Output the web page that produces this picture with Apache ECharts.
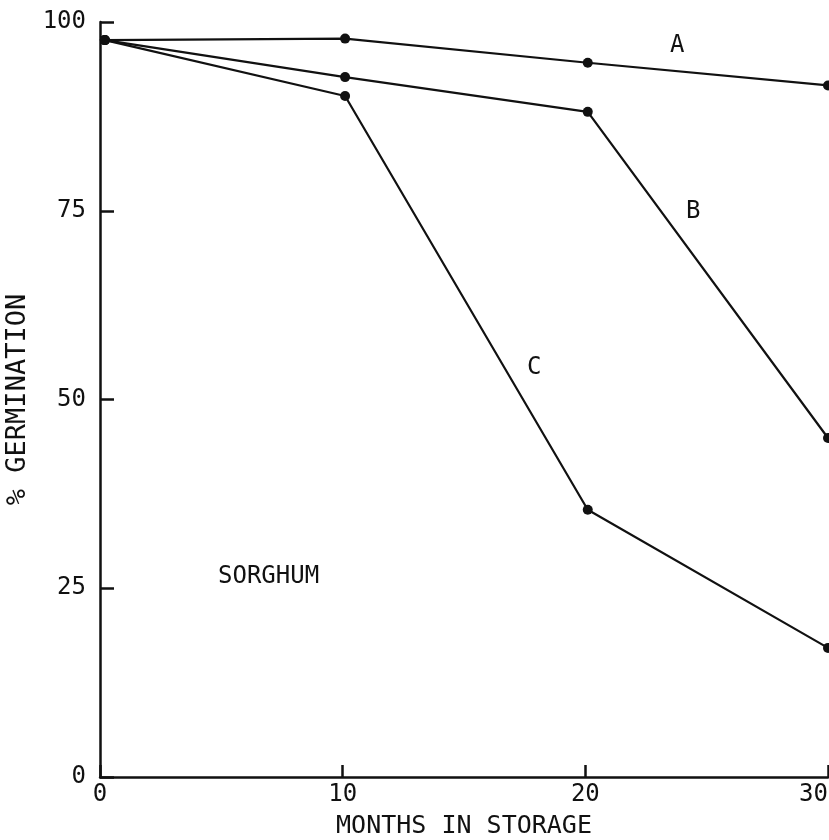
<!DOCTYPE html>
<html>
<head>
<meta charset="utf-8">
<script src="https://cdn.jsdelivr.net/npm/echarts@6/dist/echarts.min.js"></script>
<style>
html,body{margin:0;padding:0;background:#fff;}
#chart{width:829px;height:840px;}
</style>
</head>
<body>
<div id="chart"></div>
<script>
// Months in storage (x) and % germination (y) for each curve
var months = [0.2, 10.1, 20.1, 30];
var seriesA = [97.6, 97.8, 94.6, 91.6];
var seriesB = [97.6, 92.7, 88.1, 44.9];
var seriesC = [97.6, 90.2, 35.4, 17.1];
var xTicks = [0, 10, 20, 30];
var yTicks = [0, 25, 50, 75, 100];

var FONT = '"DejaVu Sans Mono", "Liberation Mono", monospace';

function pairs(ys) { return months.map(function (m, i) { return [m, ys[i]]; }); }

function mkSeries(name, ys) {
  return {
    name: name,
    type: 'line',
    data: pairs(ys),
    symbol: 'circle',
    symbolSize: 10,
    lineStyle: { color: '#111', width: 2.2 },
    itemStyle: { color: '#111' },
    clip: false,
    z: 5
  };
}

var chart = echarts.init(document.getElementById('chart'), null, { renderer: 'canvas' });
chart.setOption({
  backgroundColor: '#fff',
  animation: false,
  grid: { left: 100, right: 1, top: 22, bottom: 63, containLabel: false, outerBoundsMode: 'none' },
  xAxis: {
    type: 'value',
    min: 0, max: 30, interval: 10,
    name: 'MONTHS IN STORAGE',
    nameLocation: 'middle',
    nameGap: 37,
    nameTextStyle: { color: '#111', fontFamily: FONT, fontSize: 25 },
    axisLine: { show: true, onZero: false, lineStyle: { color: '#111', width: 2.5 } },
    axisTick: { show: true, inside: true, length: 12, lineStyle: { color: '#111', width: 2.5 } },
    axisLabel: { color: '#111', fontFamily: FONT, fontSize: 24, margin: 6, alignMaxLabel: 'right',
      formatter: function (v) { return xTicks.indexOf(v) >= 0 ? String(v) : ''; } },
    splitLine: { show: false }
  },
  yAxis: {
    type: 'value',
    min: 0, max: 100, interval: 25,
    name: '% GERMINATION',
    nameLocation: 'middle',
    nameGap: 64,
    nameRotate: 90,
    nameTextStyle: { color: '#111', fontFamily: FONT, fontSize: 27 },
    axisLine: { show: true, lineStyle: { color: '#111', width: 2.5 } },
    axisTick: { show: true, inside: true, length: 14, lineStyle: { color: '#111', width: 2.5 } },
    axisLabel: { color: '#111', fontFamily: FONT, fontSize: 24, margin: 14,
      formatter: function (v) { return yTicks.indexOf(v) >= 0 ? String(v) : ''; } },
    splitLine: { show: false }
  },
  series: [
    mkSeries('A', seriesA),
    mkSeries('B', seriesB),
    mkSeries('C', seriesC)
  ],
  graphic: [
    { type: 'text', left: 670, top: 34, style: { text: 'A', font: '24px ' + FONT, fill: '#111' } },
    { type: 'text', left: 686, top: 200, style: { text: 'B', font: '24px ' + FONT, fill: '#111' } },
    { type: 'text', left: 527, top: 356, style: { text: 'C', font: '24px ' + FONT, fill: '#111' } },
    { type: 'text', left: 218, top: 565, style: { text: 'SORGHUM', font: '24px ' + FONT, fill: '#111' } }
  ]
});
</script>
</body>
</html>
